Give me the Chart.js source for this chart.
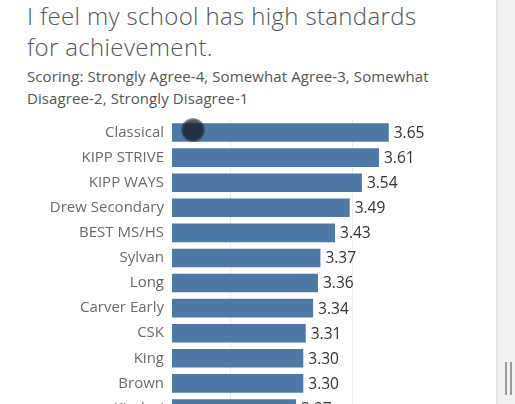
<!DOCTYPE html>
<html>
<head>
<meta charset="utf-8">
<script src="https://cdn.jsdelivr.net/npm/chart.js@4/dist/chart.umd.min.js"></script>
<style>
  html, body { margin: 0; padding: 0; background: #fff; overflow: hidden; }
  body { width: 515px; height: 404px; position: relative; font-family: "Open Sans", sans-serif; }
  .title { position: absolute; left: 27px; top: 0px; font-size: 24px; line-height: 31px; color: #555; font-weight: 300; letter-spacing: 0.35px; }
  .subtitle { position: absolute; left: 27px; top: 65px; font-size: 15px; line-height: 22px; color: #555; letter-spacing: 0.1px; }
  .chart-box { position: absolute; left: 0; top: 118px; width: 497px; height: 303px; }
  .scrollbar { position: absolute; left: 496px; top: 0; width: 19px; height: 404px; background: #f1f1f1; border-left: 2px solid #e4e4e4; box-sizing: border-box; }
  .grip { position: absolute; top: 362px; width: 2px; height: 33px; background: #9a9a9a; }
  .cursor { position: absolute; left: 181px; top: 118px; width: 24px; height: 24px; border-radius: 50%;
    background: radial-gradient(circle, rgba(20,25,35,0.75) 55%, rgba(60,60,60,0.35) 75%, rgba(0,0,0,0) 100%); }
</style>
</head>
<body>
<div class="title">I feel my school has high standards<br>for achievement.</div>
<div class="subtitle">Scoring: Strongly Agree-4, Somewhat Agree-3, Somewhat<br>Disagree-2, Strongly Disagree-1</div>
<div class="chart-box"><canvas id="chart"></canvas></div>
<div class="cursor"></div>
<div class="scrollbar"><div class="grip" style="left:7px"></div><div class="grip" style="left:12px"></div></div>

<script>
// school names, top to bottom
const schools = ["Classical", "KIPP STRIVE", "KIPP WAYS", "Drew Secondary", "BEST MS/HS", "Sylvan",
  "Long", "Carver Early", "CSK", "King", "Brown", "Kindezi"];
// average score per school
const scores = [3.65, 3.61, 3.54, 3.49, 3.43, 3.37, 3.36, 3.34, 3.31, 3.30, 3.30, 3.27];
// vertical gridlines
const gridValues = [3.0, 3.5];

// draws the value just right of each bar
const valueLabels = {
  id: "valueLabels",
  afterDatasetsDraw(chart) {
    const ctx = chart.ctx;
    ctx.save();
    ctx.font = "15.5px 'Open Sans', sans-serif";
    ctx.fillStyle = "#333";
    ctx.textAlign = "left";
    ctx.textBaseline = "middle";
    chart.getDatasetMeta(0).data.forEach((bar, i) => {
      ctx.fillText(scores[i].toFixed(2), bar.x + 5, bar.y + 1);
    });
    ctx.restore();
  }
};

new Chart(document.getElementById("chart"), {
  type: "bar",
  data: {
    labels: schools,
    datasets: [{
      data: scores,
      backgroundColor: "#4e79a7",
      borderWidth: 0,
      barPercentage: 0.74,
      categoryPercentage: 1
    }]
  },
  options: {
    indexAxis: "y",
    responsive: true,
    maintainAspectRatio: false,
    animation: false,
    layout: { padding: { top: 2, right: 57, bottom: 0, left: 0 } },
    plugins: { legend: { display: false }, tooltip: { enabled: false } },
    scales: {
      x: {
        min: 2.762,
        max: 3.86,
        afterBuildTicks: (scale) => { scale.ticks = gridValues.map(v => ({ value: v })); },
        afterFit: (scale) => { scale.height = 0; },
        ticks: { display: false },
        border: { display: false },
        grid: { color: "#ececec", lineWidth: 1, drawTicks: false }
      },
      y: {
        afterFit: (scale) => { scale.width = 172; scale.paddingTop = 0; scale.paddingBottom = 0; },
        border: { display: false },
        grid: { display: false, drawTicks: false },
        ticks: { color: "#6a6a6a", font: { family: "'Open Sans', sans-serif", size: 15 }, padding: 8 }
      }
    }
  },
  plugins: [valueLabels]
});
</script>
</body>
</html>
